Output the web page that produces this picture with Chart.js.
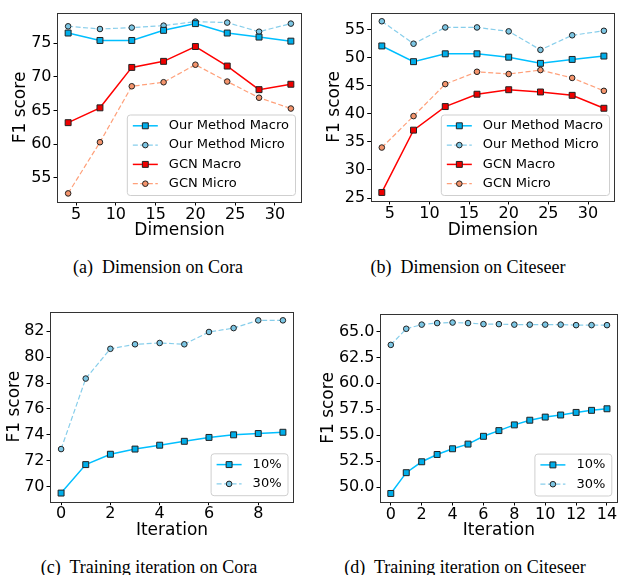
<!DOCTYPE html>
<html>
<head>
<meta charset="utf-8">
<script src="https://cdn.jsdelivr.net/npm/chart.js@4.4.0/dist/chart.umd.min.js"></script>
<style>
  body { margin: 0; width: 621px; height: 575px; overflow: hidden; background: #fff; position: relative; }
  .panel { position: absolute; }
  .cap { position: absolute; width: 300px; text-align: center; font-family: "Liberation Serif", serif; font-size: 18px; line-height: 20px; color: #000; white-space: nowrap; }
</style>
</head>
<body>
<div class="panel" style="left:0;top:0;width:310px;height:250px"><canvas id="cA"></canvas></div>
<div class="panel" style="left:310px;top:0;width:311px;height:250px"><canvas id="cB"></canvas></div>
<div class="panel" style="left:0;top:290px;width:310px;height:260px"><canvas id="cC"></canvas></div>
<div class="panel" style="left:310px;top:290px;width:313px;height:260px"><canvas id="cD"></canvas></div>
<div class="cap" style="left:8px;top:257px">(a)&nbsp; Dimension on Cora</div>
<div class="cap" style="left:318px;top:257px">(b)&nbsp; Dimension on Citeseer</div>
<div class="cap" style="left:-1px;top:557px">(c)&nbsp; Training iteration on Cora</div>
<div class="cap" style="left:315px;top:557px">(d)&nbsp; Training iteration on Citeseer</div>
<script>
// dimension experiments
const dims = [4, 8, 12, 16, 20, 24, 28, 32];
const coraOursMacro = [76.5, 75.4, 75.4, 76.9, 77.9, 76.5, 75.9, 75.3];
const coraOursMicro = [77.5, 77.1, 77.3, 77.6, 78.2, 78.05, 76.7, 77.9];
const coraGcnMacro = [63.2, 65.4, 71.4, 72.3, 74.5, 71.6, 68.1, 68.9];
const coraGcnMicro = [52.7, 60.3, 68.6, 69.2, 71.8, 69.3, 66.9, 65.3];
const citeOursMacro = [52.1, 49.3, 50.7, 50.7, 50.1, 49.0, 49.7, 50.3];
const citeOursMicro = [56.5, 52.5, 55.4, 55.4, 54.7, 51.4, 54.0, 54.8];
const citeGcnMacro = [26.0, 37.1, 41.3, 43.5, 44.3, 43.9, 43.3, 41.0];
const citeGcnMicro = [34.0, 39.6, 45.3, 47.5, 47.1, 47.8, 46.4, 44.1];

// training iteration experiments
const itersCora = [0, 1, 2, 3, 4, 5, 6, 7, 8, 9];
const coraIter10 = [69.5, 71.7, 72.5, 72.9, 73.2, 73.5, 73.8, 74.0, 74.1, 74.2];
const coraIter30 = [72.9, 78.35, 80.65, 81.0, 81.1, 81.0, 81.95, 82.25, 82.85, 82.85];
const itersCite = [0, 1, 2, 3, 4, 5, 6, 7, 8, 9, 10, 11, 12, 13, 14];
const citeIter10 = [49.4, 51.4, 52.45, 53.15, 53.7, 54.15, 54.9, 55.45, 56.0, 56.45, 56.75, 56.95, 57.2, 57.4, 57.55];
const citeIter30 = [63.7, 65.25, 65.65, 65.8, 65.85, 65.8, 65.7, 65.7, 65.65, 65.65, 65.65, 65.65, 65.6, 65.6, 65.6];

const FONT = "'DejaVu Sans', sans-serif";
const EDGE = '#222';

// matplotlib style 5% margins
function padRange(arrs) {
    const all = [].concat(...arrs);
    const lo = Math.min(...all), hi = Math.max(...all);
    const m = (hi - lo) * 0.05;
    return {min: lo - m, max: hi + m};
}

function pts(xs, ys) {
    return xs.map((x, i) => ({x: x, y: ys[i]}));
}

function series(label, xs, ys, style) {
    const s = {
        macroBlue: {c: '#00bfff', fill: '#00aeea', dash: [], shape: 'rect', r: 4.2, w: 1.5},
        microBlue: {c: '#87ceeb', fill: '#7cc6e4', dash: [5, 2.5], shape: 'circle', r: 2.8, w: 1.2},
        macroRed: {c: '#ff0000', fill: '#ee0000', dash: [], shape: 'rect', r: 4.2, w: 1.5},
        microRed: {c: '#ffa07a', fill: '#f4946c', dash: [5, 2.5], shape: 'circle', r: 2.8, w: 1.2}
    }[style];
    return {
        label: label,
        data: pts(xs, ys),
        borderColor: s.c,
        borderWidth: s.w,
        borderDash: s.dash,
        pointStyle: s.shape,
        pointRadius: s.r,
        pointBorderWidth: 1,
        pointBorderColor: EDGE,
        pointBackgroundColor: s.fill,
        tension: 0,
        fill: false
    };
}

// frame around the axes and legend box inside, lower right
const boxPlugin = {
    id: 'boxLegend',
    afterDatasetsDraw(chart) {
        const ctx = chart.ctx;
        const a = chart.chartArea;
        ctx.save();
        ctx.strokeStyle = '#333';
        ctx.lineWidth = 1;
        ctx.strokeRect(Math.round(a.left) + 0.5, Math.round(a.top) + 0.5,
            Math.round(a.right - a.left) - 1, Math.round(a.bottom - a.top));

        const ds = chart.data.datasets;
        ctx.font = '13px ' + FONT;
        let tw = 0;
        ds.forEach(d => { tw = Math.max(tw, ctx.measureText(d.label).width); });
        const bw = 6 + 25 + 11 + tw + 6;
        const bh = 22.6 + (ds.length - 1) * 19.3;
        const inset = chart.options.plugins.boxLegend.inset;
        const bx = a.right - inset - bw;
        const by = a.bottom - inset - bh;
        ctx.beginPath();
        ctx.roundRect(bx + 0.5, by + 0.5, bw, bh, 3);
        ctx.fillStyle = 'rgba(255,255,255,0.8)';
        ctx.fill();
        ctx.strokeStyle = '#cfcfcf';
        ctx.stroke();
        ds.forEach((d, i) => {
            const y = by + 11.3 + i * 19.3;
            ctx.beginPath();
            ctx.setLineDash(d.borderDash);
            ctx.strokeStyle = d.borderColor;
            ctx.lineWidth = d.borderWidth;
            ctx.moveTo(bx + 6, y);
            ctx.lineTo(bx + 31, y);
            ctx.stroke();
            ctx.setLineDash([]);
            ctx.fillStyle = d.pointBackgroundColor;
            ctx.strokeStyle = d.pointBorderColor;
            ctx.lineWidth = 1;
            Chart.helpers.drawPoint(ctx, {pointStyle: d.pointStyle, radius: d.pointRadius, borderWidth: 1, rotation: 0}, bx + 18.5, y);
            ctx.fillStyle = '#000';
            ctx.textBaseline = 'middle';
            ctx.textAlign = 'left';
            ctx.fillText(d.label, bx + 42, y);
        });
        ctx.restore();
    }
};

function makeChart(id, W, H, area, xCfg, yCfg, datasets, inset) {
    const canvas = document.getElementById(id);
    canvas.width = W;
    canvas.height = H;
    const tickFont = {family: FONT, size: 16, lineHeight: 1};
    const titleFont = {family: FONT, size: 17, lineHeight: 1};
    return new Chart(canvas, {
        type: 'line',
        data: {datasets: datasets},
        plugins: [boxPlugin],
        options: {
            responsive: false,
            animation: false,
            events: [],
            layout: {padding: {left: 0, top: area.top, right: W - area.right, bottom: 0}},
            plugins: {
                legend: {display: false},
                tooltip: {enabled: false},
                boxLegend: {inset: inset}
            },
            scales: {
                x: {
                    type: 'linear',
                    min: xCfg.min,
                    max: xCfg.max,
                    grid: {drawOnChartArea: false, drawTicks: true, tickLength: 3.5, color: '#000'},
                    border: {display: false},
                    ticks: {stepSize: xCfg.step, includeBounds: false, font: tickFont, color: '#000', padding: 1, maxRotation: 0, autoSkip: false},
                    title: {display: true, text: xCfg.title, font: titleFont, color: '#000', padding: {top: 0, bottom: H - xCfg.titleY - 8.5}},
                    afterFit(scale) { scale.height = H - area.bottom; }
                },
                y: {
                    min: yCfg.min,
                    max: yCfg.max,
                    grid: {drawOnChartArea: false, drawTicks: true, tickLength: 3.5, color: '#000'},
                    border: {display: false},
                    ticks: {stepSize: yCfg.step, includeBounds: false, font: tickFont, color: '#000', padding: 2,
                        callback: yCfg.fmt || (v => v)},
                    title: {display: true, text: 'F1 score', font: titleFont, color: '#000', padding: {top: yCfg.titleX - 8.5, bottom: 0}},
                    afterFit(scale) { scale.width = area.left; }
                }
            }
        }
    });
}

document.addEventListener('DOMContentLoaded', () => {
    const dimX = padRange([dims]);

    const yA = padRange([coraOursMacro, coraOursMicro, coraGcnMacro, coraGcnMicro]);
    makeChart('cA', 310, 250, {left: 57, top: 13, right: 302, bottom: 202},
        {min: dimX.min, max: dimX.max, step: 5, title: 'Dimension', titleY: 231},
        {min: yA.min, max: yA.max, step: 5, titleX: 20.7},
        [
            series('Our Method Macro', dims, coraOursMacro, 'macroBlue'),
            series('Our Method Micro', dims, coraOursMicro, 'microBlue'),
            series('GCN Macro', dims, coraGcnMacro, 'macroRed'),
            series('GCN Micro', dims, coraGcnMicro, 'microRed')
        ], 7);

    const yB = padRange([citeOursMacro, citeOursMicro, citeGcnMacro, citeGcnMicro]);
    makeChart('cB', 311, 250, {left: 60.7, top: 12.7, right: 305, bottom: 201},
        {min: dimX.min, max: dimX.max, step: 5, title: 'Dimension', titleY: 231},
        {min: yB.min, max: yB.max, step: 5, titleX: 25},
        [
            series('Our Method Macro', dims, citeOursMacro, 'macroBlue'),
            series('Our Method Micro', dims, citeOursMicro, 'microBlue'),
            series('GCN Macro', dims, citeGcnMacro, 'macroRed'),
            series('GCN Micro', dims, citeGcnMicro, 'microRed')
        ], 6);

    const xC = padRange([itersCora]);
    const yC = padRange([coraIter10, coraIter30]);
    makeChart('cC', 310, 260, {left: 50, top: 21.7, right: 294, bottom: 211.7},
        {min: xC.min, max: xC.max, step: 2, title: 'Iteration', titleY: 240.7},
        {min: yC.min, max: yC.max, step: 2, titleX: 15},
        [
            series('10%', itersCora, coraIter10, 'macroBlue'),
            series('30%', itersCora, coraIter30, 'microBlue')
        ], 6.5);

    const xD = padRange([itersCite]);
    const yD = padRange([citeIter10, citeIter30]);
    makeChart('cD', 313, 260, {left: 70, top: 24, right: 310.5, bottom: 212},
        {min: xD.min, max: xD.max, step: 2, title: 'Iteration', titleY: 240.7},
        {min: yD.min, max: yD.max, step: 2.5, titleX: 18.3, fmt: v => v.toFixed(1)},
        [
            series('10%', itersCite, citeIter10, 'macroBlue'),
            series('30%', itersCite, citeIter30, 'microBlue')
        ], 6.5);
});
</script>
</body>
</html>
